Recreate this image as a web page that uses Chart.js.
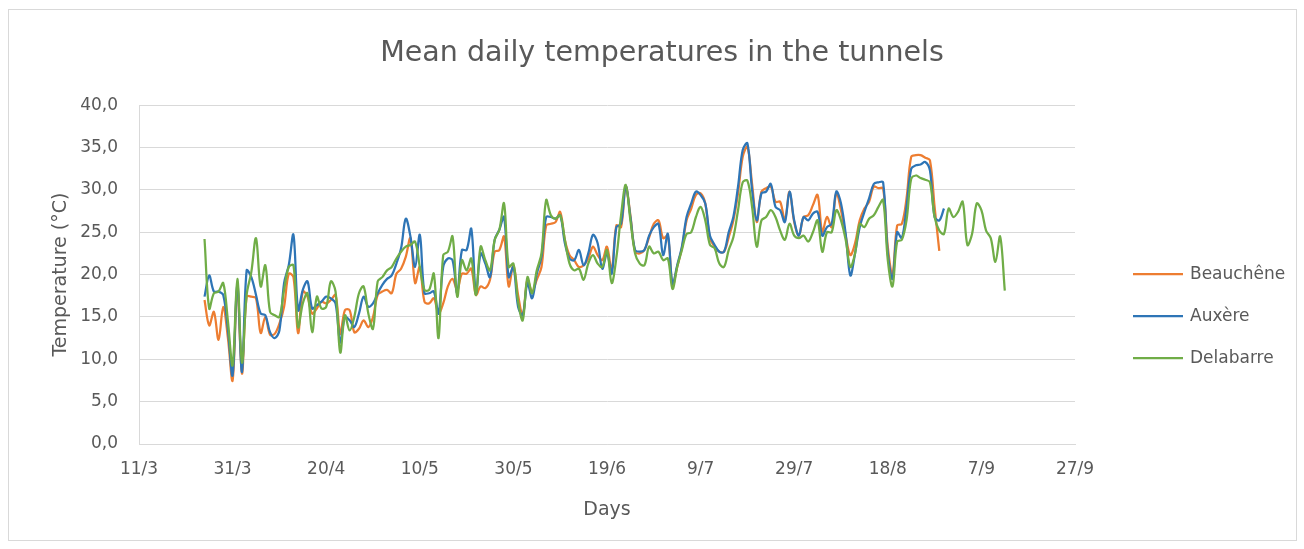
<!DOCTYPE html>
<html>
<head>
<meta charset="utf-8">
<script src="https://cdn.jsdelivr.net/npm/chart.js@4.4.0/dist/chart.umd.min.js"></script>
<style>
html, body { margin: 0; padding: 0; background: #fff; }
#frame { position: absolute; left: 8px; top: 9px; width: 1287px; height: 530px; border: 1px solid #d9d9d9; }
#temps { position: absolute; left: 0; top: 0; }
</style>
</head>
<body>
<div id="frame"></div>
<canvas id="temps" width="1304" height="549"></canvas>
<script>
// days counted from 11/3; each series is one value per day from its start day
const tickLabels = ['11/3', '31/3', '20/4', '10/5', '30/5', '19/6', '9/7', '29/7', '18/8', '7/9', '27/9'];
const seriesNames = ['Beauchêne', 'Auxère', 'Delabarre'];
const startDay = 14;

const beauchene = [
    17.0,14.0,15.6,12.3,16.2,12.5,7.5,18.5,8.3,17.4,
    17.4,17.2,13.1,15.0,12.9,13.0,14.2,16.2,20.1,19.7,
    13.1,18.0,17.4,15.4,16.0,16.8,16.6,17.0,17.6,13.0,
    15.8,15.8,13.2,13.6,14.6,13.8,15.0,17.6,18.0,18.2,
    17.8,20.1,20.7,22.1,24.3,19.0,20.9,16.8,16.6,17.2,
    15.4,16.6,18.6,19.5,18.2,20.1,20.1,20.7,17.6,18.6,
    18.4,19.4,22.7,22.9,24.5,18.6,21.1,17.6,15.2,19.4,
    18.0,19.4,20.9,25.8,26.0,26.2,27.4,24.1,22.3,21.7,
    20.9,21.1,21.9,23.3,22.3,21.7,23.3,20.5,25.8,25.6,
    30.4,27.0,22.7,22.5,22.9,24.4,26.0,26.4,24.3,24.6,
    18.7,20.9,23.1,26.4,27.8,29.4,29.6,28.4,24.3,23.3,
    22.7,22.7,24.4,26.4,29.6,33.9,35.1,30.7,26.2,29.8,
    30.2,30.4,28.6,28.6,26.4,29.8,26.2,24.6,26.8,27.0,
    28.2,29.4,25.0,26.8,25.6,29.6,27.6,24.6,22.3,23.7,
    26.4,27.8,28.6,30.4,30.2,30.2,23.3,20.0,25.8,26.0,
    29.0,33.9,34.1,34.1,33.8,33.5,28.0,22.8
];
const auxere = [
    17.4,19.9,18.0,18.0,17.6,13.5,8.1,19.0,8.5,20.5,
    19.7,17.6,15.4,15.2,13.2,12.5,13.4,19.0,21.1,24.7,
    15.8,18.2,19.2,16.0,16.4,16.8,17.4,17.2,16.6,12.0,
    15.0,14.6,13.8,15.4,17.4,16.2,16.6,17.8,18.8,19.5,
    19.9,21.3,23.1,26.6,24.5,20.9,24.7,17.8,17.8,18.0,
    15.4,20.9,21.9,21.7,17.8,22.9,22.9,25.4,17.8,22.5,
    21.3,19.7,24.1,25.3,26.8,19.7,20.9,16.2,15.2,19.0,
    17.2,20.1,22.1,26.8,26.8,26.6,27.0,23.7,21.9,21.7,
    22.9,21.1,22.5,24.7,23.7,20.7,22.5,20.1,25.6,26.0,
    30.4,26.8,22.9,22.7,22.9,24.6,25.6,26.0,22.3,24.8,
    18.9,21.1,23.3,26.8,28.4,29.8,29.4,28.4,24.6,23.5,
    22.7,22.7,25.0,26.8,30.4,34.7,35.5,30.0,26.4,29.6,
    29.8,30.7,28.0,27.6,26.2,29.8,26.4,24.6,26.8,26.4,
    27.2,27.4,24.6,25.6,26.0,29.8,28.4,24.8,19.9,22.5,
    25.6,27.4,29.0,30.7,30.9,30.9,22.5,19.5,25.0,24.3,
    28.0,32.5,32.9,33.0,33.3,32.3,26.8,26.4,27.8
];
const delabarre = [
    24.2,16.0,17.8,18.0,19.0,14.5,9.3,19.5,9.6,17.6,
    20.3,24.3,18.6,21.1,15.6,15.2,15.0,18.2,20.9,21.1,
    13.8,16.6,17.8,13.2,17.4,16.0,16.2,19.2,18.0,10.8,
    15.2,13.4,15.0,17.8,18.6,15.4,13.6,19.2,19.7,20.5,
    20.9,21.9,22.7,23.3,23.5,23.9,20.9,18.2,18.2,20.1,
    12.5,22.3,22.7,24.5,17.4,21.7,20.5,21.9,17.6,23.3,
    21.7,20.5,24.1,25.3,28.4,20.9,21.3,16.8,14.6,19.7,
    17.8,20.5,22.5,28.8,27.0,26.6,27.0,24.1,21.3,20.5,
    20.7,19.4,21.3,22.3,21.3,20.9,22.9,19.0,22.0,27.0,
    30.6,26.4,22.5,21.3,21.1,23.3,22.5,22.7,21.7,21.9,
    18.3,20.9,22.9,24.8,25.0,26.8,28.0,26.4,23.5,23.1,
    21.3,20.9,22.9,24.4,27.6,30.9,31.1,28.0,23.3,26.4,
    26.8,27.6,26.8,25.2,24.1,26.0,24.6,24.3,24.6,23.9,
    25.0,26.4,22.7,25.0,25.0,27.6,26.4,24.1,20.9,22.5,
    26.0,25.6,26.6,27.0,28.0,28.8,21.7,18.6,23.9,24.1,
    26.4,31.3,31.7,31.4,31.2,30.9,26.8,25.2,24.8,27.8,
    26.8,27.4,28.6,23.5,24.8,28.4,27.6,25.2,24.3,21.5,24.5,18.1
];

const textColor = '#595959';
const gridColor = '#d9d9d9';
const fontFamily = '"DejaVu Sans", sans-serif';

function toPoints(values) {
    return values.map((v, i) => ({x: startDay + i, y: v}));
}

// legend drawn beside the plot, a short line then the name
const sideLegend = {
    id: 'sideLegend',
    afterDraw(chart) {
        const ctx = chart.ctx;
        const area = chart.chartArea;
        ctx.save();
        ctx.font = '17px ' + fontFamily;
        ctx.textBaseline = 'middle';
        chart.data.datasets.forEach((ds, i) => {
            const y = area.top + 169 + i * 42;
            ctx.strokeStyle = ds.borderColor;
            ctx.lineWidth = 2.25;
            ctx.beginPath();
            ctx.moveTo(area.right + 58, y);
            ctx.lineTo(area.right + 108, y);
            ctx.stroke();
            ctx.fillStyle = textColor;
            ctx.fillText(ds.label, area.right + 115, y);
        });
        ctx.restore();
    }
};

const ctx = document.getElementById('temps');
new Chart(ctx, {
    type: 'line',
    data: {
        datasets: [
            {
                label: seriesNames[0],
                data: toPoints(beauchene),
                borderColor: '#ED7D31',
                order: 2
            },
            {
                label: seriesNames[1],
                data: toPoints(auxere),
                borderColor: '#2E75B6',
                order: 1
            },
            {
                label: seriesNames[2],
                data: toPoints(delabarre),
                borderColor: '#70AD47',
                order: 0
            }
        ]
    },
    options: {
        responsive: false,
        animation: false,
        devicePixelRatio: 1,
        layout: {padding: {left: 20, right: 0, top: 0, bottom: 0}},
        elements: {
            line: {borderWidth: 2.25, tension: 0.35, fill: false},
            point: {radius: 0, hoverRadius: 0}
        },
        scales: {
            x: {
                type: 'linear',
                min: 0,
                max: 200,
                afterFit: s => { s.height = 105; },
                grid: {display: false, drawTicks: false},
                border: {display: true, color: gridColor},
                ticks: {
                    stepSize: 20,
                    padding: 15,
                    color: textColor,
                    font: {family: fontFamily, size: 17},
                    maxRotation: 0,
                    callback: (v, i) => tickLabels[i]
                },
                title: {
                    display: true,
                    text: 'Days',
                    color: textColor,
                    font: {family: fontFamily, size: 19},
                    padding: {top: 4, bottom: 28}
                }
            },
            y: {
                min: 0,
                max: 40,
                afterFit: s => { s.width = 119; },
                grid: {color: gridColor, drawTicks: false},
                border: {display: true, color: gridColor},
                ticks: {
                    stepSize: 5,
                    padding: 21,
                    color: textColor,
                    font: {family: fontFamily, size: 17},
                    callback: v => v.toFixed(1).replace('.', ',')
                },
                title: {
                    display: true,
                    text: 'Temperature (°C)',
                    color: textColor,
                    font: {family: fontFamily, size: 19},
                    padding: {top: 30, bottom: 0}
                }
            },
            // empty right-hand axis that keeps room for the legend
            legendSpace: {
                position: 'right',
                afterFit: s => { s.width = 229; },
                grid: {display: false, drawTicks: false},
                border: {display: false},
                ticks: {display: false}
            }
        },
        plugins: {
            legend: {display: false},
            tooltip: {enabled: false},
            title: {
                display: true,
                text: 'Mean daily temperatures in the tunnels',
                color: textColor,
                font: {family: fontFamily, size: 28.5, weight: 'normal'},
                padding: {top: 36, bottom: 35}
            }
        }
    },
    plugins: [sideLegend]
});
</script>
</body>
</html>
